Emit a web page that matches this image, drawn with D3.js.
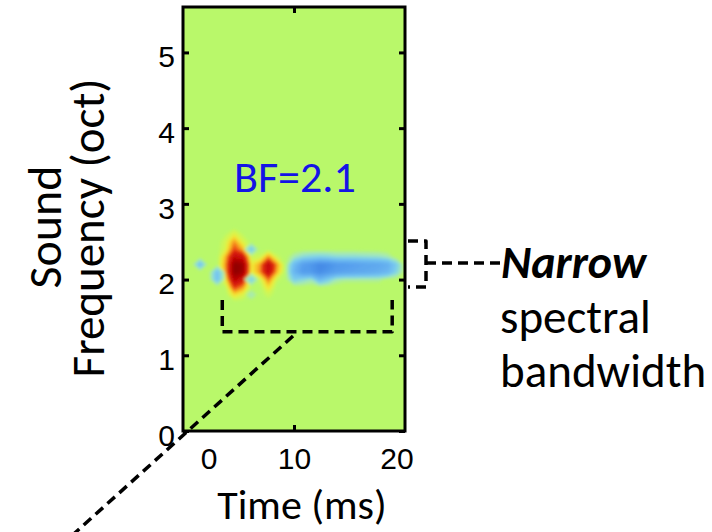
<!DOCTYPE html>
<html>
<head>
<meta charset="utf-8">
<script src="https://cdn.jsdelivr.net/npm/d3@7"></script>
<style>
  html, body { margin: 0; padding: 0; background: #fff; }
  svg { display: block; }
</style>
</head>
<body>
<svg id="chart" width="712" height="532"></svg>
<script>
// Time bins (ms) and frequency bins (oct, high to low) of the receptive field grid
const timeBins = [-3, -2, -1, 0, 1, 2, 3, 4, 5, 6, 7, 8, 9, 10, 11, 12, 13, 14, 15, 16, 17, 18, 19, 20, 21, 22, 23];
const freqBins = [2.9, 2.8, 2.7, 2.6, 2.5, 2.4, 2.3, 2.2, 2.1, 2.0, 1.9, 1.8, 1.7, 1.6, 1.5];

// Normalised STRF weights: one row per frequency bin, one column per time bin
const strf = [
  [0,0,0,0,0,0,0,0,0,0,0,0,0,0,0,0,0,0,0,0,0,0,0,0,0,0,0],
  [0,0,0,0,0,0,0,0,0,0,0,0,0,0,0,0,0,0,0,0,0,0,0,0,0,0,0],
  [0,0,0,0,0,0,0,0,0,0,0,0,0,0,0,0,0,0,0,0,0,0,0,0,0,0,0],
  [0,0,0,0,0,0.03,0.12,0.03,0,0,0,0,0,0,0,0,0,0,0,0,0,0,0,0,0,0,0],
  [0,0,0,0,0,0.08,0.3,0.1,0,0,0,0,0,0,0,0,0,0,0,0,0,0,0,0,0,0,0],
  [0,0,0,0,0,0.1,0.42,0.25,-0.25,0,0,0,0,0,0,0,0,0,0,0,0,0,0,0,0,0,0],
  [0,0,0,0,0,0.25,0.72,0.62,0.05,0.05,0.3,0.05,0,-0.08,-0.15,-0.18,-0.2,-0.18,-0.15,-0.15,-0.15,-0.14,-0.13,-0.12,-0.08,0,0],
  [0,0,-0.3,0,0,0.3,0.97,0.92,0.14,0.28,0.76,0.3,0,-0.32,-0.55,-0.62,-0.72,-0.68,-0.6,-0.58,-0.55,-0.52,-0.5,-0.48,-0.42,-0.22,0],
  [0,0,0,0,-0.28,0.28,0.98,0.9,0.12,0.3,0.72,0.25,0,-0.38,-0.58,-0.6,-0.7,-0.62,-0.55,-0.52,-0.5,-0.48,-0.46,-0.42,-0.36,-0.18,0],
  [0,0,0,0,-0.28,0.15,0.78,0.6,-0.22,0.05,0.35,0.05,0,-0.22,-0.16,-0.1,-0.36,-0.22,-0.08,-0.05,-0.05,-0.05,-0.05,-0.05,0,0,0],
  [0,0,0,0,0,0.03,0.45,0.3,0,0,0.18,0,0,0,0,0,0,0,0,0,0,0,0,0,0,0,0],
  [0,0,0,0,0,0,0.18,0.1,-0.1,0,0.06,0,0,0,0,0,0,0,0,0,0,0,0,0,0,0,0],
  [0,0,0,0,0,0,0,0,0,0,0,0,0,0,0,0,0,0,0,0,0,0,0,0,0,0,0],
  [0,0,0,0,0,0,0,0,0,0,0,0,0,0,0,0,0,0,0,0,0,0,0,0,0,0,0],
  [0,0,0,0,0,0,0,0,0,0,0,0,0,0,0,0,0,0,0,0,0,0,0,0,0,0,0]
];

// Axis ticks
const yTicks = [0, 1, 2, 3, 4, 5];
const xTicks = [0, 10, 20];
const xTickMarks = [10];

// Labels
const bfLabel = "BF=2.1";
const yTitle = ["Sound", "Frequency (oct)"];
const xTitle = "Time (ms)";
const note = ["Narrow", "spectral", "bandwidth"];

const svg = d3.select("#chart");
const plot = { left: 183, right: 405, top: 7, bottom: 431 };

const x = d3.scaleLinear().domain([-3, 23]).range([plot.left, plot.right]);
const y = d3.scaleLinear().domain([0, 5.6]).range([plot.bottom, plot.top]);

const bg = "#b9f86a";
const colorPos = d3.scaleLinear()
  .domain([0, 0.08, 0.16, 0.26, 0.36, 0.48, 0.7, 0.9, 1])
  .range([bg, "#d4f650", "#f4e834", "#f8b024", "#f06018", "#dc2410", "#c80a08", "#a00000", "#880000"])
  .clamp(true);
const colorNeg = d3.scaleLinear()
  .domain([0, 0.08, 0.16, 0.24, 0.4, 0.6, 0.8, 1])
  .range([bg, "#a8eab0", "#88dadc", "#78c8f0", "#66b2f0", "#529aec", "#3c80e0", "#2c64d0"])
  .clamp(true);

const defs = svg.append("defs");
defs.append("clipPath").attr("id", "plotClip")
  .append("rect")
  .attr("x", plot.left).attr("y", plot.top)
  .attr("width", plot.right - plot.left).attr("height", plot.bottom - plot.top);
defs.append("filter").attr("id", "soft")
  .attr("x", "-10%").attr("y", "-10%").attr("width", "120%").attr("height", "120%")
  .append("feGaussianBlur").attr("stdDeviation", 1.6);

// Background of the field
svg.append("rect")
  .attr("x", plot.left).attr("y", plot.top)
  .attr("width", plot.right - plot.left).attr("height", plot.bottom - plot.top)
  .attr("fill", bg);

// Heat map drawn as filled contour bands of the grid
const nx = timeBins.length, ny = freqBins.length;
const dt = timeBins[1] - timeBins[0];
const df = freqBins[0] - freqBins[1];
const flat = strf.flat();
const levels = d3.range(0.03, 1.0, 0.03);

const gridProj = d3.geoTransform({
  point(gx, gy) {
    this.stream.point(
      x(timeBins[0] + (gx - 0.5) * dt),
      y(freqBins[0] - (gy - 0.5) * df)
    );
  }
});
const path = d3.geoPath(gridProj);

const heat = svg.append("g").attr("clip-path", "url(#plotClip)")
  .append("g").attr("filter", "url(#soft)");

function drawLayer(values, color) {
  const bands = d3.contours().size([nx, ny]).thresholds(levels)(values);
  heat.append("g").selectAll("path")
    .data(bands)
    .join("path")
    .attr("d", path)
    .attr("fill", d => color(d.value + 0.015));
}
drawLayer(flat.map(v => Math.max(v, 0)), colorPos);
drawLayer(flat.map(v => Math.max(-v, 0)), colorNeg);

// Frame and ticks
const tickFont = "'Liberation Sans', Arial, sans-serif";
const titleFont = "Carlito, Lato, 'Open Sans', sans-serif";

svg.append("rect")
  .attr("x", plot.left).attr("y", plot.top)
  .attr("width", plot.right - plot.left).attr("height", plot.bottom - plot.top)
  .attr("fill", "none").attr("stroke", "#000").attr("stroke-width", 3);

const yAxisL = svg.append("g").attr("transform", `translate(${plot.left},0)`)
  .call(d3.axisLeft(y).tickValues(yTicks).tickFormat(d3.format("d"))
    .tickSizeInner(-6).tickSizeOuter(0).tickPadding(8));
const yAxisR = svg.append("g").attr("transform", `translate(${plot.right},0)`)
  .call(d3.axisRight(y).tickValues(yTicks).tickSizeInner(-6).tickSizeOuter(0).tickFormat(""));
const xAxisB = svg.append("g").attr("transform", `translate(0,${plot.bottom})`)
  .call(d3.axisBottom(x).tickValues(xTickMarks).tickSizeInner(-6).tickSizeOuter(0).tickFormat(""));
const xAxisT = svg.append("g").attr("transform", `translate(0,${plot.top})`)
  .call(d3.axisTop(x).tickValues(xTickMarks).tickSizeInner(-6).tickSizeOuter(0).tickFormat(""));
const xLabels = svg.append("g").attr("transform", `translate(0,${plot.bottom})`)
  .call(d3.axisBottom(x).tickValues(xTicks).tickFormat(d3.format("d")).tickSize(0).tickPadding(17));

[yAxisL, yAxisR, xAxisB, xAxisT, xLabels].forEach(g => {
  g.select(".domain").remove();
  g.selectAll(".tick line").attr("stroke", "#000").attr("stroke-width", 3);
  g.selectAll(".tick text").attr("fill", "#000")
    .style("font-family", tickFont).style("font-size", "30px");
});
yAxisL.selectAll(".tick text").attr("dy", "0.48em");
xLabels.selectAll(".tick text").filter(d => d === 20).attr("dx", 17);

// Best-frequency label
svg.append("text")
  .attr("x", x(10.1)).attr("y", 192)
  .attr("text-anchor", "middle")
  .attr("fill", "#1414e6")
  .style("font-family", titleFont).style("font-size", "44px")
  .text(bfLabel);

// Axis titles
svg.append("text")
  .attr("transform", "translate(61,227) rotate(-90)")
  .attr("text-anchor", "middle")
  .style("font-family", titleFont).style("font-size", "48px")
  .text(yTitle[0]);
svg.append("text")
  .attr("transform", "translate(104,228) rotate(-90)")
  .attr("text-anchor", "middle")
  .style("font-family", titleFont).style("font-size", "47px")
  .text(yTitle[1]);
svg.append("text")
  .attr("x", 302).attr("y", 519)
  .attr("text-anchor", "middle")
  .style("font-family", titleFont).style("font-size", "42px")
  .text(xTitle);

// Dashed annotations
const dash = g => g.attr("fill", "none").attr("stroke", "#000")
  .attr("stroke-width", 3.5).attr("stroke-dasharray", "10,6")
  .attr("stroke-linejoin", "round");

// Bracket under the response and leader line toward the lower left
svg.append("path").call(dash)
  .attr("d", d3.line()([[x(1.6), y(1.73)], [x(1.6), y(1.31)], [x(21.5), y(1.31)], [x(21.5), y(1.73)]]));
svg.append("path").call(dash)
  .attr("d", d3.line()([[293, 336], [66, 541]]));

// Bandwidth bracket to the right of the field
svg.append("path").call(dash)
  .attr("d", d3.line()([[408, 241], [426, 241], [426, 287], [408, 287]]));
svg.append("path").call(dash)
  .attr("d", d3.line()([[426, 263], [502, 263]]));

svg.append("text")
  .attr("x", 501).attr("y", 278)
  .style("font-family", titleFont).style("font-size", "46px")
  .style("font-weight", "bold").style("font-style", "italic")
  .text(note[0]);
svg.append("text")
  .attr("x", 500).attr("y", 333)
  .style("font-family", titleFont).style("font-size", "47px")
  .text(note[1]);
svg.append("text")
  .attr("x", 500).attr("y", 387)
  .style("font-family", titleFont).style("font-size", "47px")
  .text(note[2]);
</script>
</body>
</html>
